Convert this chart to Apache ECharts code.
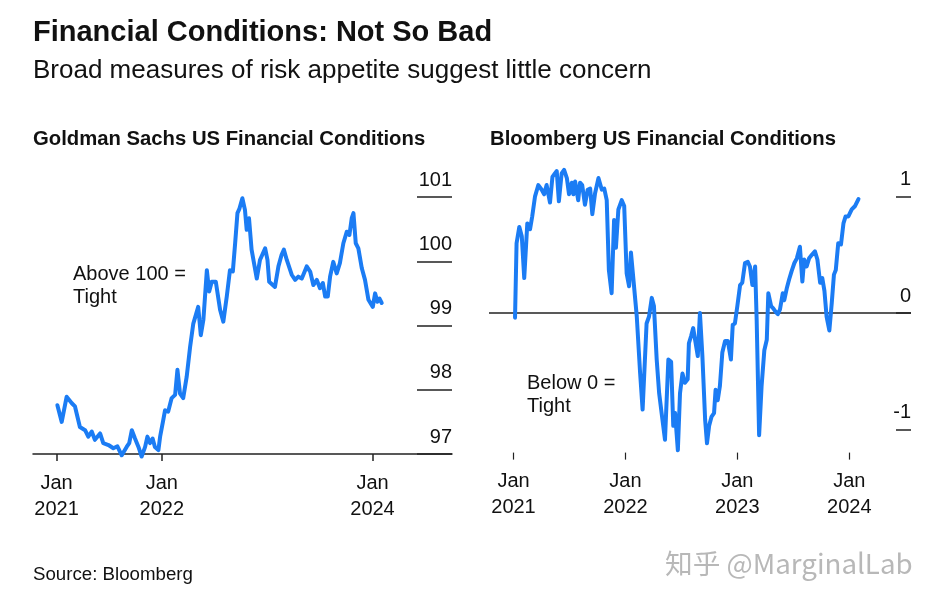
<!DOCTYPE html>
<html>
<head>
<meta charset="utf-8">
<script src="https://cdn.jsdelivr.net/npm/echarts@6/dist/echarts.min.js"></script>
<style>
html,body{margin:0;padding:0;background:#fff;}
#chart{width:936px;height:604px;}
</style>
</head>
<body>
<div id="chart"></div>
<script>
// Days since 2021-01-01 for each reading, with index values
const gsDays = [3,18,35,53,64,81,99,110,122,133,151,162,180,197,211,226,243,252,261,272,284,295,307,315,324,333,341,353,359,370,376,387,399,411,419,428,439,451,463,474,491,500,509,521,529,538,552,567,578,590,601,611,619,627,634,644,653,659,667,676,694,705,723,731,737,757,769,780,788,798,815,827,838,850,867,879,890,902,913,923,931,940,948,959,971,982,994,1006,1015,1023,1029,1037,1046,1058,1069,1081,1096,1104,1112,1119,1127];
const gsValues = [97.76,97.50,97.89,97.79,97.74,97.42,97.37,97.27,97.35,97.22,97.32,97.17,97.14,97.09,97.12,96.98,97.11,97.17,97.37,97.24,97.11,96.96,97.11,97.27,97.17,97.24,97.11,97.06,97.27,97.53,97.68,97.66,97.87,97.92,98.31,97.94,97.87,98.20,98.67,99.03,99.29,98.85,99.09,99.86,99.53,99.68,99.68,99.24,99.06,99.45,99.86,99.84,100.28,100.75,100.82,100.98,100.80,100.49,100.67,100.18,99.73,100.02,100.20,100.02,99.68,99.60,99.92,100.10,100.18,100.02,99.79,99.71,99.76,99.73,99.92,99.84,99.63,99.71,99.58,99.66,99.45,99.45,99.76,99.99,99.81,99.97,100.28,100.46,100.41,100.67,100.75,100.28,100.20,99.89,99.71,99.40,99.29,99.50,99.37,99.42,99.35];

const bbDays = [5,10,19,27,35,45,54,61,70,81,92,100,108,119,127,135,141,148,157,165,174,181,190,195,201,211,217,224,233,242,250,257,266,277,288,296,304,311,320,328,334,342,353,361,369,377,383,391,402,413,421,434,442,451,458,467,475,483,494,505,514,521,527,536,543,551,559,568,572,579,586,594,601,608,616,625,631,638,646,654,659,666,673,681,690,699,709,715,722,730,739,746,755,764,771,779,788,793,801,809,818,826,831,840,847,855,862,869,878,883,891,899,907,916,924,934,942,948,956,964,973,983,991,1000,1007,1014,1021,1030,1038,1045,1051,1059,1068,1076,1083,1092,1103,1114,1125];
const bbValues = [-0.04,0.60,0.74,0.66,0.30,0.77,0.72,0.83,1.00,1.10,1.06,1.02,1.10,0.95,1.17,1.20,1.22,0.96,1.20,1.23,1.16,1.02,1.12,1.02,1.13,0.97,1.12,1.10,0.93,1.06,1.07,0.85,1.03,1.16,1.06,1.07,0.97,0.37,0.17,0.80,0.56,0.89,0.97,0.92,0.34,0.23,0.52,0.29,-0.03,-0.52,-0.83,-0.09,-0.03,0.13,0.06,-0.40,-0.69,-0.86,-1.09,-0.40,-0.42,-0.97,-0.86,-1.18,-0.69,-0.52,-0.60,-0.57,-0.26,-0.20,-0.13,-0.26,-0.37,0.00,-0.37,-0.92,-1.12,-0.97,-0.89,-0.86,-0.66,-0.75,-0.63,-0.34,-0.24,-0.24,-0.40,-0.10,-0.09,0.06,0.24,0.26,0.43,0.44,0.40,0.24,0.40,-0.06,-1.05,-0.63,-0.32,-0.23,0.17,0.06,0.04,0.01,-0.01,0.03,0.17,0.11,0.21,0.29,0.36,0.43,0.47,0.57,0.27,0.46,0.40,0.47,0.50,0.53,0.46,0.26,0.30,0.19,-0.03,-0.15,0.09,0.33,0.37,0.60,0.59,0.77,0.83,0.83,0.89,0.92,0.98];

const gsTickYears = [2021, 2022, 2024];
const bbTickYears = [2021, 2022, 2023, 2024];
const gsYTicks = [97, 98, 99, 100, 101];
const bbYTicks = [-1, 0, 1];

const DAY = 86400000;
const BASE = Date.UTC(2021, 0, 1);
const toPairs = (days, vals) => days.map((d, i) => [d, vals[i]]);
const yearDays = ys => ys.map(y => Math.round((Date.UTC(y, 0, 1) - BASE) / DAY));

const FONT = "'Liberation Sans', Arial, sans-serif";
const BLUE = '#1b7cf4';
const INK = '#111';

const xLabel = {
  fontFamily: FONT, fontSize: 20, color: INK, lineHeight: 26, margin: 16,
  formatter: v => 'Jan\n' + new Date(BASE + v * DAY).getUTCFullYear()
};

const chart = echarts.init(document.getElementById('chart'), null, {renderer: 'canvas'});
chart.setOption({
  animation: false,
  backgroundColor: '#fff',
  grid: [
    {left: 33, right: 484, top: 197, bottom: 150},
    {left: 489, right: 25, top: 167.6, bottom: 151.4}
  ],
  xAxis: [
    {
      type: 'value', gridIndex: 0,
      min: -81.5, max: 1370.5,
      axisLine: {show: true, onZero: false, lineStyle: {color: '#222', width: 1.5}},
      axisTick: {show: true, length: 7, lineStyle: {color: '#222', width: 1.5}, customValues: yearDays(gsTickYears)},
      axisLabel: Object.assign({customValues: yearDays(gsTickYears)}, xLabel),
      splitLine: {show: false}
    },
    {
      type: 'value', gridIndex: 1,
      min: -79.9, max: 1296.3,
      axisLine: {show: false, onZero: false},
      axisTick: {show: true, length: 7, lineStyle: {color: '#222', width: 1.2}, customValues: yearDays(bbTickYears)},
      axisLabel: Object.assign({customValues: yearDays(bbTickYears)}, xLabel),
      splitLine: {show: false}
    }
  ],
  yAxis: [
    {
      type: 'value', gridIndex: 0, position: 'right',
      min: 97, max: 101, interval: 1,
      axisLine: {show: false, onZero: false},
      axisTick: {show: true, inside: true, length: 35, lineStyle: {color: '#222', width: 1.5}, customValues: gsYTicks},
      axisLabel: {inside: true, margin: 0, align: 'right', verticalAlign: 'bottom', padding: [0, 0, 7, 0],
        fontFamily: FONT, fontSize: 20, color: INK, customValues: gsYTicks},
      splitLine: {show: false}
    },
    {
      type: 'value', gridIndex: 1, position: 'right',
      min: -1.2, max: 1.25,
      axisLine: {show: false, onZero: false},
      axisTick: {show: true, inside: true, length: 15, lineStyle: {color: '#222', width: 1.5}, customValues: bbYTicks},
      axisLabel: {inside: true, margin: 0, align: 'right', verticalAlign: 'bottom', padding: [0, 0, 7, 0],
        fontFamily: FONT, fontSize: 20, color: INK, customValues: bbYTicks},
      splitLine: {show: false}
    }
  ],
  series: [
    {
      name: 'Goldman Sachs US Financial Conditions', type: 'line',
      xAxisIndex: 0, yAxisIndex: 0, data: toPairs(gsDays, gsValues),
      showSymbol: false, clip: false, z: 3,
      lineStyle: {color: BLUE, width: 4, join: 'round', cap: 'round'}
    },
    {
      name: 'Bloomberg US Financial Conditions', type: 'line',
      xAxisIndex: 1, yAxisIndex: 1, data: toPairs(bbDays, bbValues),
      showSymbol: false, clip: false, z: 3,
      lineStyle: {color: BLUE, width: 4, join: 'round', cap: 'round'},
      markLine: {
        silent: true, symbol: 'none', z: 2,
        lineStyle: {color: '#222', width: 1.5, type: 'solid'},
        label: {show: false},
        data: [{yAxis: 0}]
      }
    }
  ],
  graphic: [
    {type: 'text', x: 33, y: 33, style: {text: 'Financial Conditions: Not So Bad', font: "bold 29px 'Liberation Sans', Arial, sans-serif", fill: INK, verticalAlign: 'middle'}},
    {type: 'text', x: 33, y: 71, style: {text: 'Broad measures of risk appetite suggest little concern', font: "26px 'Liberation Sans', Arial, sans-serif", fill: INK, verticalAlign: 'middle'}},
    {type: 'text', x: 33, y: 139, style: {text: 'Goldman Sachs US Financial Conditions', font: "bold 20.3px 'Liberation Sans', Arial, sans-serif", fill: INK, verticalAlign: 'middle'}},
    {type: 'text', x: 490, y: 139, style: {text: 'Bloomberg US Financial Conditions', font: "bold 20.3px 'Liberation Sans', Arial, sans-serif", fill: INK, verticalAlign: 'middle'}},
    {type: 'text', x: 73, y: 263, style: {text: 'Above 100 =\nTight', font: "20px 'Liberation Sans', Arial, sans-serif", lineHeight: 23, fill: INK}},
    {type: 'text', x: 527, y: 372, style: {text: 'Below 0 =\nTight', font: "20px 'Liberation Sans', Arial, sans-serif", lineHeight: 23, fill: INK}},
    {type: 'text', x: 33, y: 575, style: {text: 'Source: Bloomberg', font: "18.7px 'Liberation Sans', Arial, sans-serif", fill: INK, verticalAlign: 'middle'}},
    {type: 'text', x: 665, y: 563, style: {text: '知乎 @MarginalLab', font: "27.7px 'Noto Sans CJK SC', sans-serif", fill: '#b8b8b8', verticalAlign: 'middle'}}
  ]
});
</script>
</body>
</html>
